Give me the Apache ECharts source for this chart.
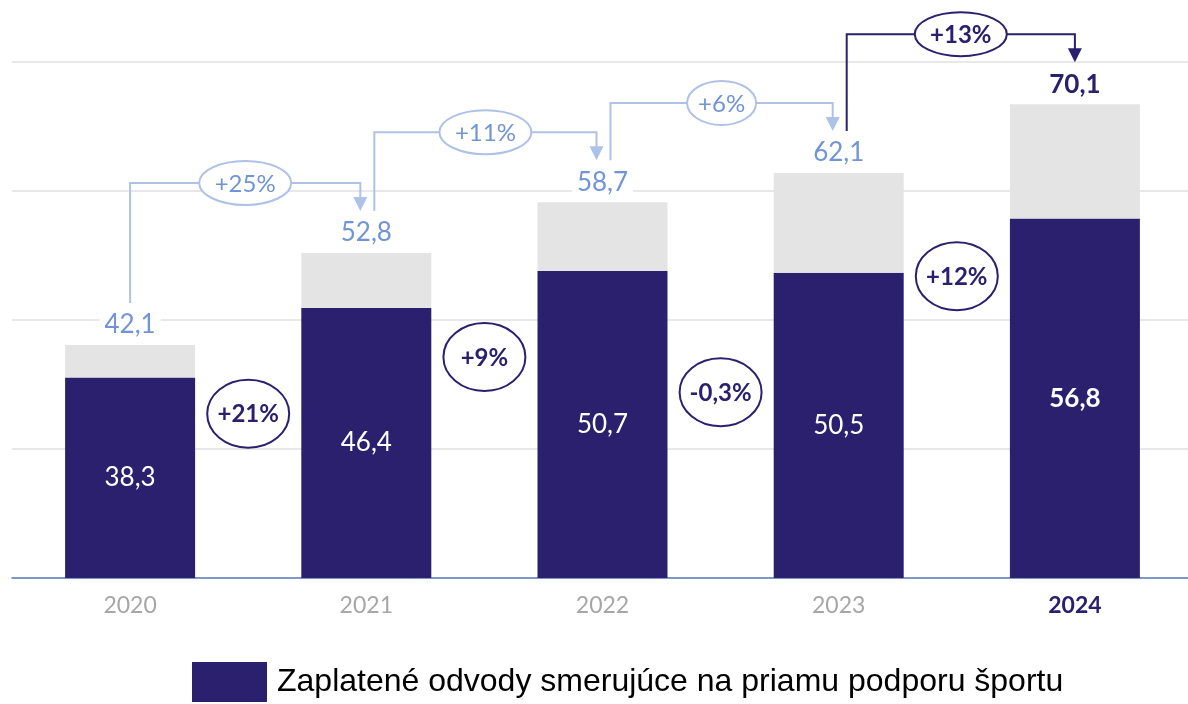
<!DOCTYPE html>
<html>
<head>
<meta charset="utf-8">
<script src="https://cdn.jsdelivr.net/npm/echarts@6/dist/echarts.min.js"></script>
<style>
    html, body { margin: 0; padding: 0; background: #fff; }
    #chart { width: 1188px; height: 704px; }
</style>
</head>
<body>
<div id="chart"></div>
<script>
var years = ['2020', '2021', '2022', '2023', '2024'];
var paid = [38.3, 46.4, 50.7, 50.5, 56.8];
var totals = [42.1, 52.8, 58.7, 62.1, 70.1];
var totalGrowth = ['+25%', '+11%', '+6%', '+13%'];
var paidGrowth = ['+21%', '+9%', '-0,3%', '+12%'];
// height (axis units) where the circled growth labels sit between the bars
var paidGrowthLevel = [34.1, 40.7, 36.6, 50.1];

var SERIES_NAME = 'Zaplatené odvody smerujúce na priamu podporu športu';
var NAVY = '#2a206e';
var LIGHT_TEXT = '#7094d6';
var LIGHT_LINE = '#aec2e8';
var FONT = 'Lato';

function fmt(v) {
    return v.toFixed(1).replace('.', ',');
}

var rest = totals.map(function (t, i) {
    return +(t - paid[i]).toFixed(1);
});
var last = years.length - 1;

var paidData = paid.map(function (v, i) {
    return {
        value: v,
        label: { fontWeight: i === last ? 'bold' : 'normal' }
    };
});
var restData = rest.map(function (v, i) {
    return {
        value: v,
        label: {
            color: i === last ? NAVY : LIGHT_TEXT,
            fontWeight: i === last ? 'bold' : 'normal'
        }
    };
});

var stepData = totalGrowth.map(function (g, i) {
    return [i, totals[i], totals[i + 1]];
});
var bubbleData = paidGrowth.map(function (g, i) {
    return [i, paidGrowthLevel[i]];
});

function renderStep(params, api) {
    var i = api.value(0);
    var toLast = i + 1 === last;
    var from = api.coord([i, api.value(1)]);
    var to = api.coord([i + 1, api.value(2)]);
    var x0 = from[0] + (i === 0 ? 0 : 8);
    var x1 = to[0] - (toLast ? 0 : 6);
    var y0 = from[1] - 42;
    var y1 = to[1] - 42;
    var yTop = to[1] - 70;
    var color = toLast ? NAVY : LIGHT_LINE;
    var text = totalGrowth[i];
    var rx = text.length * 11.5;
    var cx = (x0 + x1) / 2;
    return {
        type: 'group',
        children: [{
            type: 'polyline',
            shape: { points: [[x0, y0], [x0, yTop], [x1, yTop], [x1, y1 - 12]] },
            style: { stroke: color, lineWidth: 2, fill: null }
        }, {
            type: 'polygon',
            shape: { points: [[x1 - 7, y1 - 14], [x1 + 7, y1 - 14], [x1, y1]] },
            style: { fill: color }
        }, {
            type: 'ellipse',
            shape: { cx: cx, cy: yTop, rx: rx, ry: 22 },
            style: { fill: '#fff', stroke: color, lineWidth: 2 }
        }, {
            type: 'text',
            x: cx,
            y: yTop + 1,
            style: {
                text: text,
                fill: toLast ? NAVY : LIGHT_TEXT,
                font: (toLast ? 'bold ' : '') + '24px ' + FONT,
                align: 'center',
                verticalAlign: 'middle'
            }
        }]
    };
}

function renderBubble(params, api) {
    var i = api.value(0);
    var a = api.coord([i, api.value(1)]);
    var b = api.coord([i + 1, api.value(1)]);
    var cx = (a[0] + b[0]) / 2;
    var cy = a[1];
    return {
        type: 'group',
        children: [{
            type: 'ellipse',
            shape: { cx: cx, cy: cy, rx: 41, ry: 34 },
            style: { fill: '#fff', stroke: NAVY, lineWidth: 2 }
        }, {
            type: 'text',
            x: cx,
            y: cy + 1,
            style: {
                text: paidGrowth[i],
                fill: NAVY,
                font: 'bold 24px ' + FONT,
                align: 'center',
                verticalAlign: 'middle'
            }
        }]
    };
}

var chart = echarts.init(document.getElementById('chart'));
chart.setOption({
    animation: false,
    backgroundColor: '#fff',
    grid: { left: 12, right: -5, top: 62, bottom: 126, outerBoundsMode: 'none' },
    legend: {
        data: [{ name: SERIES_NAME, icon: 'rect' }],
        left: 192,
        top: 662,
        padding: 0,
        itemWidth: 75,
        itemHeight: 40,
        textStyle: {
            fontFamily: 'Liberation Sans',
            fontSize: 32,
            color: '#000',
            padding: [0, 0, 0, 5]
        }
    },
    xAxis: {
        type: 'category',
        data: years,
        axisTick: { show: false },
        axisLine: { lineStyle: { color: '#5b7bbd', width: 1.5 } },
        axisLabel: {
            margin: 16,
            formatter: function (v, i) {
                return i === last ? '{b|' + v + '}' : '{n|' + v + '}';
            },
            rich: {
                n: { color: '#a6a6a6', fontSize: 23, fontFamily: FONT },
                b: { color: NAVY, fontSize: 23, fontFamily: FONT, fontWeight: 'bold' }
            }
        }
    },
    yAxis: {
        type: 'value',
        min: 15,
        max: 75,
        interval: 15,
        axisLabel: { show: false },
        axisLine: { show: false },
        axisTick: { show: false },
        splitLine: { lineStyle: { color: '#e8e8e8', width: 2 } }
    },
    series: [{
        name: SERIES_NAME,
        type: 'bar',
        stack: 'all',
        barWidth: 130,
        itemStyle: { color: NAVY },
        label: {
            show: true,
            position: 'inside',
            color: '#fff',
            fontSize: 26,
            fontFamily: FONT,
            formatter: function (p) { return fmt(p.value); }
        },
        data: paidData
    }, {
        name: 'rest',
        type: 'bar',
        stack: 'all',
        barWidth: 130,
        itemStyle: { color: '#e4e4e4' },
        label: {
            show: true,
            position: 'top',
            distance: 7,
            fontSize: 26,
            fontFamily: FONT,
            backgroundColor: '#fff',
            padding: [0, 5],
            formatter: function (p) { return fmt(totals[p.dataIndex]); }
        },
        data: restData
    }, {
        type: 'custom',
        name: 'steps',
        clip: false,
        silent: true,
        z: 5,
        encode: { x: 0, y: 1 },
        renderItem: renderStep,
        data: stepData
    }, {
        type: 'custom',
        name: 'bubbles',
        clip: false,
        silent: true,
        z: 5,
        encode: { x: 0, y: 1 },
        renderItem: renderBubble,
        data: bubbleData
    }]
});
</script>
</body>
</html>
